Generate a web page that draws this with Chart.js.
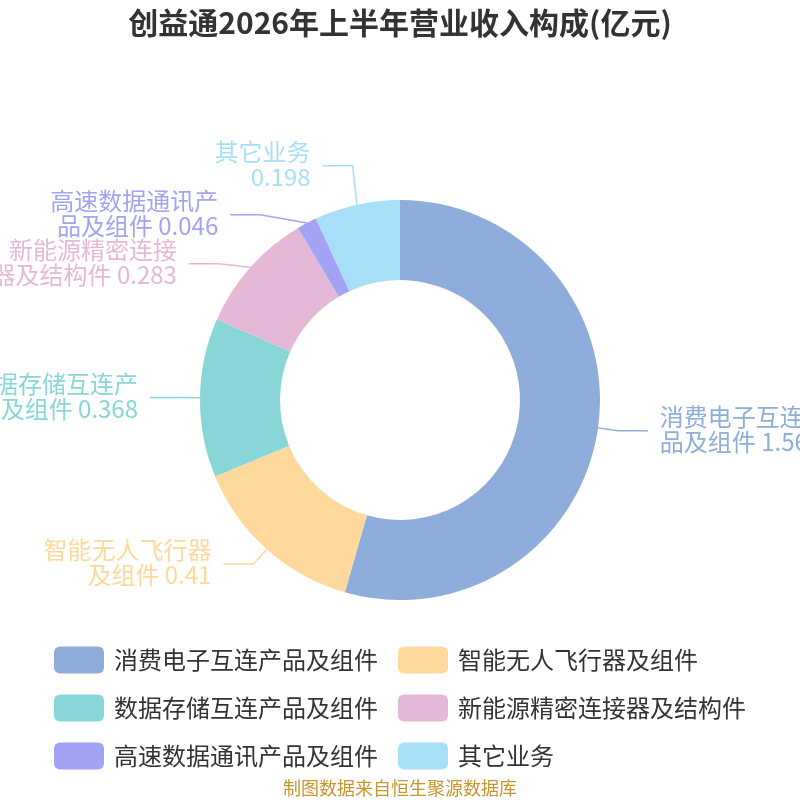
<!DOCTYPE html>
<html>
<head>
<meta charset="utf-8">
<script src="https://cdn.jsdelivr.net/npm/chart.js@4/dist/chart.umd.min.js"></script>
<style>
html,body{margin:0;padding:0;background:#fff;}
canvas{display:block;}
</style>
</head>
<body>
<canvas id="c" width="800" height="800"></canvas>
<script>
const titleText = '创益通2026年上半年营业收入构成(亿元)';
const sourceText = '制图数据来自恒生聚源数据库';
const categories = ['消费电子互连产品及组件','智能无人飞行器及组件','数据存储互连产品及组件','新能源精密连接器及结构件','高速数据通讯产品及组件','其它业务'];
const values = [1.56, 0.41, 0.368, 0.283, 0.046, 0.198];
const valueLabels = ['1.56', '0.41', '0.368', '0.283', '0.046', '0.198'];
const colors = ['#8eaddb','#fed99b','#88d6d8','#e6b8d7','#a3a3f5','#a8dff8'];

const FONT = '"Noto Sans CJK SC","Noto Sans",sans-serif';

function labelLines(name, val){
  const chunks = [];
  for (let i = 0; i < name.length; i += 7) chunks.push(name.slice(i, i + 7));
  if (chunks.length === 1) chunks.push(val);
  else chunks[chunks.length - 1] += ' ' + val;
  return chunks;
}

const decor = {
  id: 'decor',
  afterDraw(chart){
    const ctx = chart.ctx;
    ctx.save();
    // title
    ctx.fillStyle = '#333333';
    ctx.font = 'bold 30px ' + FONT;
    ctx.textAlign = 'center';
    ctx.textBaseline = 'middle';
    ctx.fillText(titleText, 400, 23);

    // labels with leader lines
    const meta = chart.getDatasetMeta(0);
    const L1 = 20, L2 = 30, GAP = 12, MIN = 49;
    const items = meta.data.map((arc, i) => {
      const p = arc.getProps(['x','y','startAngle','endAngle','outerRadius'], true);
      const mid = (p.startAngle + p.endAngle) / 2;
      const r1 = p.outerRadius + L1;
      return {
        i, cx: p.x, cy: p.y, r1,
        ax: p.x + p.outerRadius * Math.cos(mid), ay: p.y + p.outerRadius * Math.sin(mid),
        nx: p.x + r1 * Math.cos(mid), ny: p.y + r1 * Math.sin(mid),
        right: Math.cos(mid) >= 0
      };
    });
    [true, false].forEach(side => {
      const dir = side ? 1 : -1;
      const s = items.filter(it => it.right === side).sort((a, b) => a.ny - b.ny);
      s.forEach(it => { it.x = it.nx; it.y = it.ny; });
      let clusters = s.map(it => [it]);
      const place = c => {
        const mean = c.reduce((a, it) => a + it.ny, 0) / c.length;
        c.forEach((it, k) => { it.y = mean + (k - (c.length - 1) / 2) * MIN; });
      };
      let merged = true, shifted = false;
      while (merged) {
        merged = false;
        for (let k = 0; k < clusters.length - 1; k++) {
          const a = clusters[k], b = clusters[k + 1];
          if (a[a.length - 1].y + MIN > b[0].y) {
            clusters.splice(k, 2, a.concat(b));
            place(clusters[k]);
            merged = shifted = true;
            break;
          }
        }
      }
      if (!shifted || !s.length) return;
      // re-place x on an ellipse through the outermost label of each half
      const cy = s[0].cy, cx = s[0].cx;
      [s.filter(it => it.y <= cy), s.filter(it => it.y > cy)].forEach(semi => {
        if (!semi.length) return;
        let ref = semi[0];
        semi.forEach(it => { if (Math.abs(it.y - cy) >= Math.abs(ref.y - cy)) ref = it; });
        const rA = ref.r1;
        const dxr = ref.x - cx, dyr = Math.abs(ref.y - cy);
        const rB = Math.abs(dxr) < rA ? Math.sqrt(dyr * dyr / (1 - dxr * dxr / (rA * rA))) : rA;
        semi.forEach(it => {
          const dy = Math.abs(it.y - cy);
          const t = Math.max(0, 1 - dy * dy / (rB * rB));
          it.x = cx + dir * Math.sqrt(t) * it.r1;
        });
      });
    });
    items.forEach(it => {
      const col = colors[it.i];
      const dir = it.right ? 1 : -1;
      const ex = it.x + dir * L2;
      ctx.strokeStyle = col;
      ctx.lineWidth = 1.5;
      ctx.beginPath();
      ctx.moveTo(it.ax, it.ay);
      ctx.lineTo(it.x, it.y);
      ctx.lineTo(ex, it.y);
      ctx.stroke();
      ctx.fillStyle = col;
      ctx.font = '24px ' + FONT;
      ctx.textAlign = it.right ? 'left' : 'right';
      ctx.textBaseline = 'middle';
      const lines = labelLines(categories[it.i], valueLabels[it.i]);
      const tx = ex + dir * GAP;
      lines.forEach((ln, k) => {
        ctx.fillText(ln, tx, it.y - 14 + k * 25);
      });
    });

    // legend
    ctx.font = '24px ' + FONT;
    ctx.textAlign = 'left';
    ctx.textBaseline = 'middle';
    categories.forEach((name, i) => {
      const col = i % 2, row = Math.floor(i / 2);
      const bx = 54 + col * 344, cyL = 660 + row * 48;
      ctx.fillStyle = colors[i];
      ctx.beginPath();
      ctx.roundRect(bx, cyL - 13.5, 50, 27, 6);
      ctx.fill();
      ctx.fillStyle = '#333333';
      ctx.fillText(name, bx + 60, cyL);
    });

    // source
    ctx.fillStyle = '#c8962e';
    ctx.font = '18px ' + FONT;
    ctx.textAlign = 'center';
    ctx.fillText(sourceText, 400, 788);
    ctx.restore();
  }
};

new Chart(document.getElementById('c'), {
  type: 'doughnut',
  data: {
    labels: categories,
    datasets: [{ data: values, backgroundColor: colors, borderWidth: 0 }]
  },
  options: {
    responsive: false,
    animation: false,
    cutout: '60%',
    layout: { padding: 200 },
    plugins: { legend: { display: false }, tooltip: { enabled: false }, title: { display: false } }
  },
  plugins: [decor]
});
</script>
</body>
</html>
